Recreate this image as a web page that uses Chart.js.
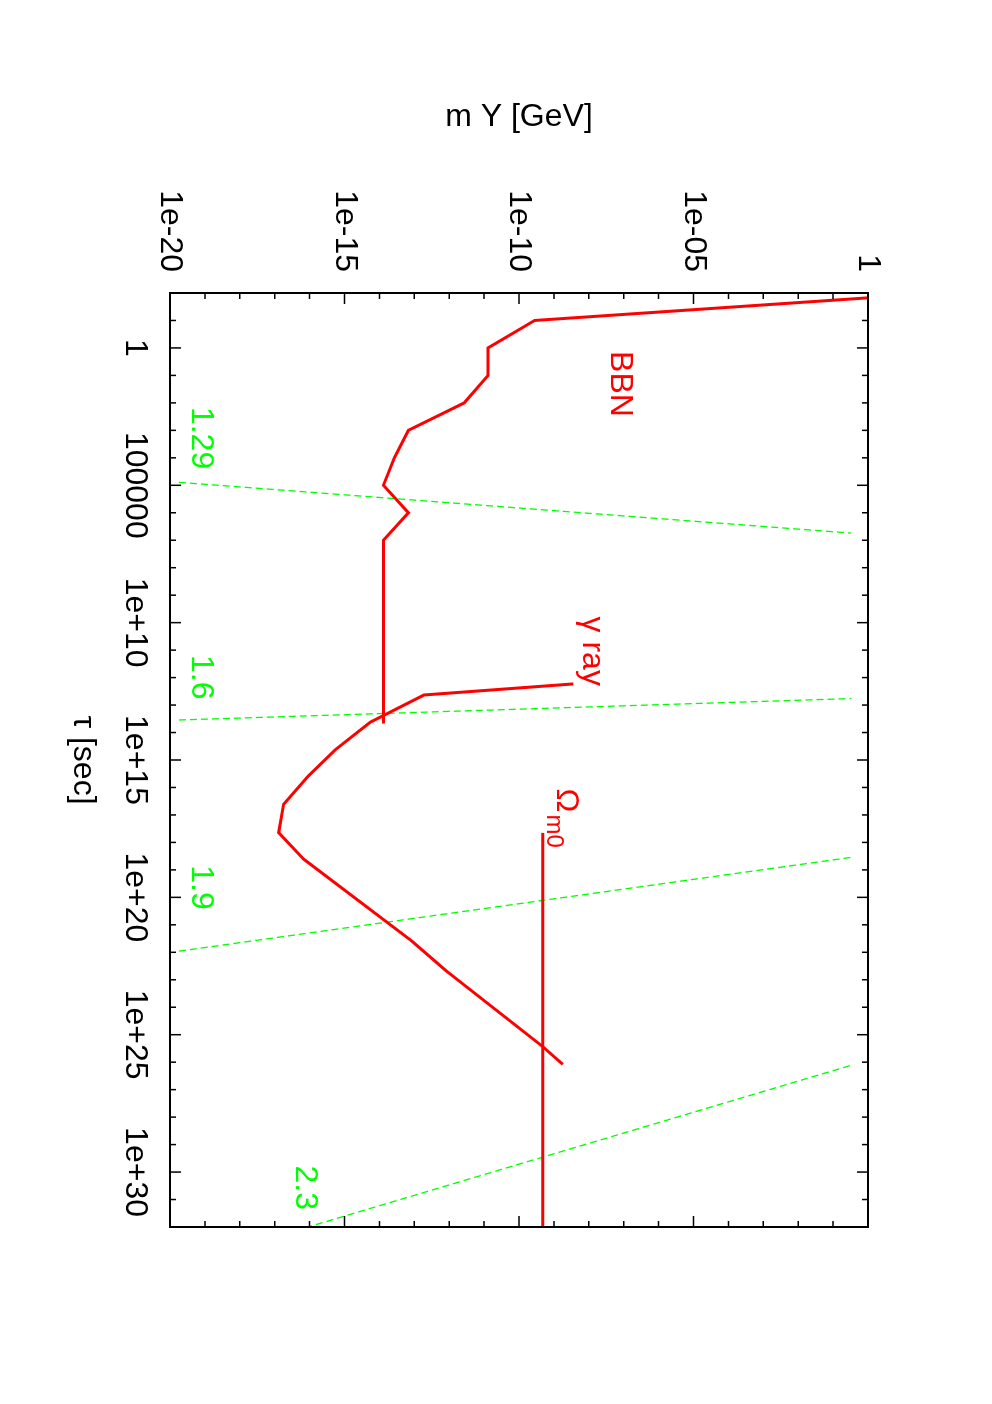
<!DOCTYPE html>
<html>
<head>
<meta charset="utf-8">
<script src="https://cdn.jsdelivr.net/npm/chart.js@4/dist/chart.umd.min.js"></script>
<style>
    html, body { margin: 0; padding: 0; background: #fff; overflow: hidden; }
    /* o gráfico é desenhado "deitado" e depois girado 90 graus, como na figura original */
    #wrap {
        position: absolute; left: 0; top: 0;
        width: 1404px; height: 992px;
        transform-origin: 0 0;
        transform: translateX(992px) rotate(90deg);
    }
</style>
</head>
<body>
<div id="wrap"><canvas id="grafico" width="1404" height="992"></canvas></div>
<script>
// Ticks dos eixos
const tauTicks = [1, 1e5, 1e10, 1e15, 1e20, 1e25, 1e30];
const tauTickLabels = ['1', '100000', '1e+10', '1e+15', '1e+20', '1e+25', '1e+30'];
const massTicks = [1e-20, 1e-15, 1e-10, 1e-5, 1];
const massTickLabels = ['1e-20', '1e-15', '1e-10', '1e-05', '1'];

// Curva BBN (tau em segundos, massa em GeV)
const bbnTau = [1.5e-2, 0.1, 1, 10, 100, 1e3, 1e4, 1e5, 1e6, 1e7, 4.7e13];
const bbnMass = [1, 2.8e-10, 1.3e-11, 1.3e-11, 2.7e-12, 6.8e-14, 2.7e-14, 1.3e-14, 6.8e-14, 1.3e-14, 1.3e-14];

// Curva de raios gama
const gammaTau = [1.7e12, 4.3e12, 4.2e13, 4.2e14, 3.9e15, 4.1e16, 4.4e17, 4.1e18, 3.9e21, 4.5e22, 2.6e25, 1.2e26];
const gammaMass = [3.6e-9, 1.9e-13, 5.5e-15, 5.5e-16, 9.1e-17, 1.8e-17, 1.3e-17, 6.8e-17, 8.5e-14, 7.8e-13, 4.6e-10, 1.8e-9];

// Limite Omega_m0
const omegaTau = [4.5e17, 1e32];
const omegaMass = [4.8e-10, 4.8e-10];

// Retas verdes tracejadas (extremos)
const greenMass = [1.8e-20, 3.3e-1];
const green129Tau = [7.8e4, 5.5e6];
const green16Tau = [3.5e13, 5.8e12];
const green19Tau = [9.1e21, 3.5e18];
const green23Tau = [2.5e33, 1.3e26];

// Rótulos no gráfico
const labelTexts = ['BBN', 'γ ray', '1.29', '1.6', '1.9', '2.3'];
const labelTau = [1.3, 6e9, 1.4e2, 1.5e11, 6.8e18, 5.8e29];
const labelMass = [4.2e-8, 6.9e-9, 4.4e-20, 4.4e-20, 4.4e-20, 4.1e-17];
const labelColors = ['#ff0000', '#ff0000', '#00ff00', '#00ff00', '#00ff00', '#00ff00'];
const omegaLabelTau = 1.1e16;
const omegaLabelMass = 1.26e-9;

const fonte = '"Liberation Sans", Arial, Helvetica, sans-serif';

function pontos(tau, mass) {
    return tau.map((t, i) => ({ x: t, y: mass[i] }));
}

function linhaVermelha(tau, mass) {
    return { data: pontos(tau, mass), borderColor: '#ff0000', borderWidth: 3, showLine: true, pointRadius: 0, fill: false };
}

function linhaVerde(tau) {
    return { data: pontos(tau, greenMass), borderColor: '#00ff00', borderWidth: 1.3, borderDash: [7, 4], showLine: true, pointRadius: 0, fill: false };
}

// Moldura com ticks para dentro e rótulos de texto
const molduraPlugin = {
    id: 'moldura',
    afterDatasetsDraw(chart) {
        const { ctx, chartArea: a, scales: { x, y } } = chart;
        ctx.save();
        ctx.strokeStyle = '#000';
        ctx.lineWidth = 1.5;
        ctx.beginPath();
        for (let k = -2; k <= 32; k++) {
            const px = x.getPixelForValue(Math.pow(10, k));
            const len = (k % 5 === 0) ? 11 : 6;
            ctx.moveTo(px, a.top); ctx.lineTo(px, a.top + len);
            ctx.moveTo(px, a.bottom); ctx.lineTo(px, a.bottom - len);
        }
        for (let k = -20; k <= 0; k++) {
            const py = y.getPixelForValue(Math.pow(10, k));
            const len = (k % 5 === 0) ? 11 : 6;
            ctx.moveTo(a.left, py); ctx.lineTo(a.left + len, py);
            ctx.moveTo(a.right, py); ctx.lineTo(a.right - len, py);
        }
        ctx.stroke();
        ctx.lineWidth = 2;
        ctx.strokeRect(a.left, a.top, a.right - a.left, a.bottom - a.top);

        // textos
        ctx.textAlign = 'left';
        ctx.textBaseline = 'alphabetic';
        ctx.font = '32px ' + fonte;
        labelTexts.forEach((t, i) => {
            ctx.fillStyle = labelColors[i];
            ctx.fillText(t, x.getPixelForValue(labelTau[i]), y.getPixelForValue(labelMass[i]));
        });
        const ox = x.getPixelForValue(omegaLabelTau);
        const oy = y.getPixelForValue(omegaLabelMass);
        ctx.fillStyle = '#ff0000';
        ctx.fillText('Ω', ox, oy);
        const w = ctx.measureText('Ω').width;
        ctx.font = '24px ' + fonte;
        ctx.fillText('m0', ox + w + 2, oy + 10);
        ctx.restore();
    }
};

const ctx = document.getElementById('grafico').getContext('2d');
new Chart(ctx, {
    type: 'scatter',
    data: {
        datasets: [
            linhaVermelha(bbnTau, bbnMass),
            linhaVermelha(gammaTau, gammaMass),
            linhaVermelha(omegaTau, omegaMass),
            linhaVerde(green129Tau),
            linhaVerde(green16Tau),
            linhaVerde(green19Tau),
            linhaVerde(green23Tau)
        ]
    },
    options: {
        responsive: false,
        animation: false,
        devicePixelRatio: 1,
        layout: { padding: { top: 124, right: 177, left: 0, bottom: 0 } },
        plugins: { legend: { display: false }, tooltip: { enabled: false } },
        scales: {
            x: {
                type: 'logarithmic',
                position: 'bottom',
                min: 1e-2,
                max: 1e32,
                grid: { display: false, drawTicks: false },
                border: { display: false },
                afterBuildTicks: s => { s.ticks = tauTicks.map(v => ({ value: v })); },
                afterFit: s => { s.height = 170; },
                ticks: {
                    autoSkip: false, maxRotation: 0, minRotation: 0, padding: 16,
                    color: '#000', font: { family: fonte, size: 32 },
                    callback: (v, i) => tauTickLabels[i]
                },
                title: {
                    display: true, text: 'τ [sec]', color: '#000',
                    font: { family: fonte, size: 32 }, padding: { top: 0, bottom: 64 }
                }
            },
            y: {
                type: 'logarithmic',
                position: 'left',
                min: 1e-20,
                max: 1,
                grid: { display: false, drawTicks: false },
                border: { display: false },
                afterBuildTicks: s => { s.ticks = massTicks.map(v => ({ value: v })); },
                afterFit: s => { s.width = 293; },
                ticks: {
                    autoSkip: false, padding: 21,
                    color: '#000', font: { family: fonte, size: 32 },
                    callback: (v, i) => massTickLabels[i]
                },
                title: {
                    display: true, text: 'm Y [GeV]', color: '#000',
                    font: { family: fonte, size: 32 }, padding: { top: 98, bottom: 0 }
                }
            }
        }
    },
    plugins: [molduraPlugin]
});
</script>
</body>
</html>
